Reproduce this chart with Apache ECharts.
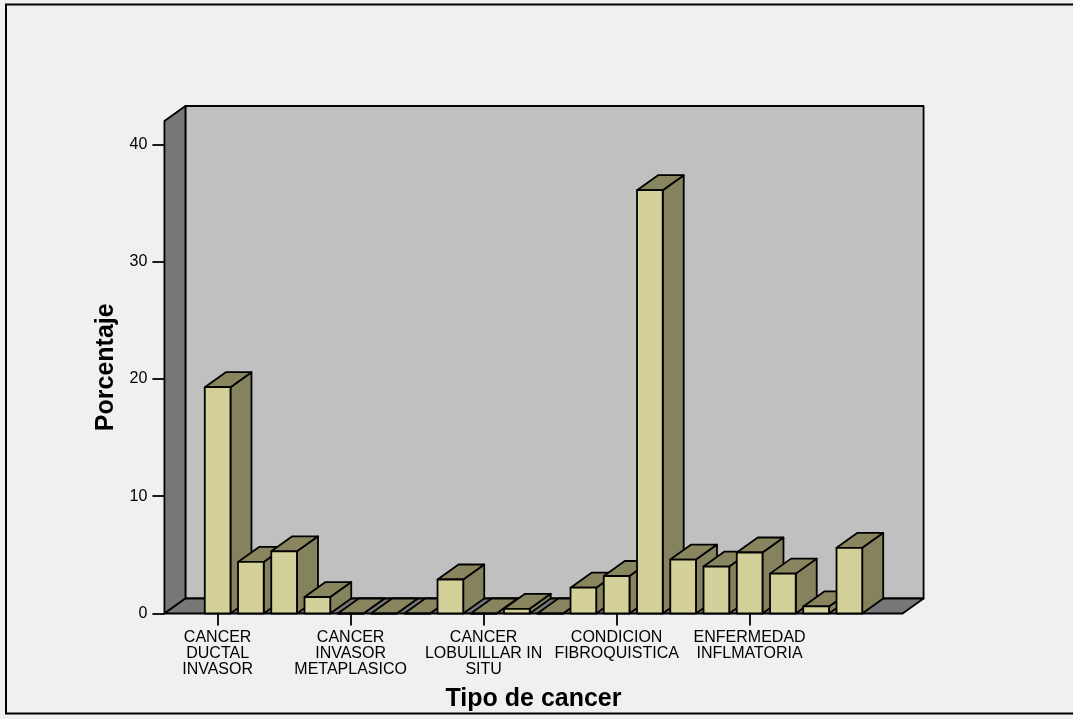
<!DOCTYPE html>
<html>
<head>
<meta charset="utf-8">
<script src="https://cdn.jsdelivr.net/npm/echarts@6/dist/echarts.min.js"></script>
<style>
  html, body { margin: 0; padding: 0; background: #F0F0F0; }
  #chart { width: 1073px; height: 719px; }
</style>
</head>
<body>
<div id="chart"></div>
<script>
// Tipo de cancer: one label every four categories
const categories = [
  'CANCER\nDUCTAL\nINVASOR', '', '', '',
  'CANCER\nINVASOR\nMETAPLASICO', '', '', '',
  'CANCER\nLOBULILLAR IN\nSITU', '', '', '',
  'CONDICION\nFIBROQUISTICA', '', '', '',
  'ENFERMEDAD\nINFLMATORIA', '', '', ''
];
const porcentaje = [19.3, 4.4, 5.3, 1.4, 0, 0, 0, 2.9, 0, 0.4, 0, 2.2, 3.2, 36.1, 4.6, 4.0, 5.2, 3.4, 0.6, 5.6];
const yTicks = [0, 10, 20, 30, 40];
const yMax = 42;

// 3D look: depth offset of the box and bars, side padding of the box
const DX = 21, DY = 15;
const PAD_BANDS = 1.1;
const BAR_RATIO = 0.773;
const FONT = '"Liberation Sans", Arial, Helvetica, sans-serif';
const EDGE = { stroke: '#000', lineWidth: 1.8, lineJoin: 'round' };

const chart = echarts.init(document.getElementById('chart'), null, { renderer: 'canvas' });

function renderBox(params, api) {
  const cs = params.coordSys;
  const band = api.size([1, 0])[0];
  const pad = band * PAD_BANDS;
  const Lf = cs.x - pad, Rf = cs.x + cs.width + pad;
  const Tf = cs.y, Bf = cs.y + cs.height;
  return {
    type: 'group',
    children: [
      { type: 'rect', shape: { x: Lf + DX, y: Tf - DY, width: Rf - Lf, height: Bf - Tf },
        style: Object.assign({ fill: '#C0C0C0' }, EDGE) },
      { type: 'polygon', shape: { points: [[Lf, Tf], [Lf + DX, Tf - DY], [Lf + DX, Bf - DY], [Lf, Bf]] },
        style: Object.assign({ fill: '#777777' }, EDGE) },
      { type: 'polygon', shape: { points: [[Lf, Bf], [Rf, Bf], [Rf + DX, Bf - DY], [Lf + DX, Bf - DY]] },
        style: Object.assign({ fill: '#777777' }, EDGE) }
    ]
  };
}

function renderBar(params, api) {
  const idx = api.value(0);
  const top = api.coord([idx, api.value(1)]);
  const base = api.coord([idx, 0]);
  const bw = api.size([1, 0])[0] * BAR_RATIO;
  const l = top[0] - bw / 2, r = l + bw;
  const t = top[1], b = base[1];
  return {
    type: 'group',
    children: [
      { type: 'polygon', shape: { points: [[r, b], [r, t], [r + DX, t - DY], [r + DX, b - DY]] },
        style: Object.assign({ fill: '#85825E' }, EDGE) },
      { type: 'polygon', shape: { points: [[l, t], [r, t], [r + DX, t - DY], [l + DX, t - DY]] },
        style: Object.assign({ fill: '#88855F' }, EDGE) },
      { type: 'rect', shape: { x: l, y: t, width: bw, height: b - t },
        style: Object.assign({ fill: '#D4D09A' }, EDGE) }
    ]
  };
}

const barData = porcentaje.map((v, i) => [i, v]);

chart.setOption({
  animation: false,
  backgroundColor: '#F0F0F0',
  textStyle: { fontFamily: FONT },
  grid: { left: 201, right: 207, top: 121, bottom: 105.5, containLabel: false, outerBoundsMode: 'none' },
  xAxis: {
    type: 'category',
    data: categories,
    name: 'Tipo de cancer',
    nameLocation: 'middle',
    nameGap: 73,
    nameTextStyle: { fontFamily: FONT, fontSize: 25, fontWeight: 'bold', color: '#000' },
    axisLine: { show: false },
    axisTick: { show: true, interval: 3, alignWithLabel: true, length: 12, lineStyle: { color: '#000', width: 1.8 } },
    axisLabel: { interval: 3, fontFamily: FONT, fontSize: 16, lineHeight: 16, color: '#000', margin: 16 },
    splitLine: { show: false }
  },
  yAxis: {
    type: 'value',
    min: 0,
    max: yMax,
    interval: 10,
    offset: 36.6,
    name: 'Porcentaje',
    nameLocation: 'middle',
    nameGap: 42,
    nameRotate: 90,
    nameTextStyle: { fontFamily: FONT, fontSize: 25, fontWeight: 'bold', color: '#000' },
    axisLine: { show: false },
    axisTick: { show: true, length: 12, customValues: yTicks, lineStyle: { color: '#000', width: 1.8 } },
    axisLabel: { fontFamily: FONT, fontSize: 16, color: '#000', margin: 17, customValues: yTicks },
    splitLine: { show: false }
  },
  graphic: [
    { type: 'rect', z: 100, silent: true,
      shape: { x: 6, y: 4.5, width: 1100, height: 709 },
      style: { fill: null, stroke: '#000', lineWidth: 2 } }
  ],
  series: [
    { type: 'custom', z: 1, silent: true, renderItem: renderBox, data: [[0, 0]], clip: false },
    { type: 'custom', z: 2, renderItem: renderBar, data: barData, clip: false }
  ]
});
</script>
</body>
</html>
